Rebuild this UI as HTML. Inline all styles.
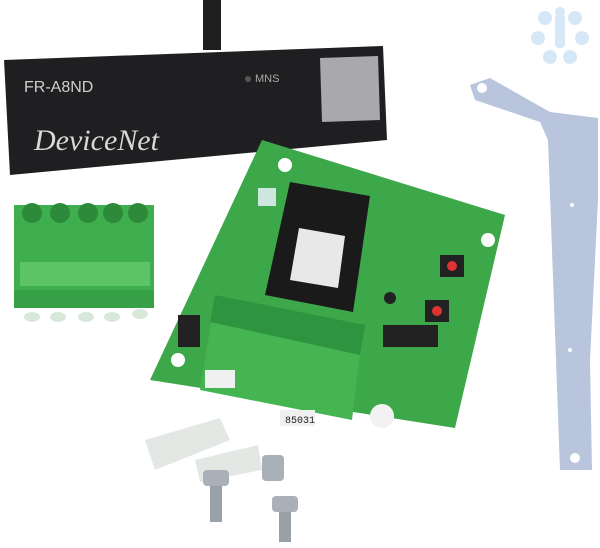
<!DOCTYPE html>
<html><head><style>
html,body{margin:0;padding:0;background:#fff;width:600px;height:548px;overflow:hidden}
svg{display:block}
</style></head><body>
<svg width="600" height="548" viewBox="0 0 600 548" xmlns="http://www.w3.org/2000/svg">
<!-- logo -->
<g fill="#d6e7f7">
<circle cx="545" cy="18" r="7"/><circle cx="575" cy="18" r="7"/><circle cx="538" cy="38" r="7"/><circle cx="582" cy="38" r="7"/><circle cx="550" cy="57" r="7"/><circle cx="570" cy="57" r="7"/><circle cx="560" cy="12" r="5"/>
<rect x="555" y="14" width="10" height="34" rx="4"/>
</g>
<!-- black panel -->
<rect x="203" y="0" width="18" height="50" fill="#1e1e1e"/>
<polygon points="4,60 383,46 387,140 10,175" fill="#1f1f21"/>
<polygon points="320,58 378,56 380,120 322,122" fill="#a9a9ab"/>
<text x="24" y="92" font-family="Liberation Sans, sans-serif" font-size="16" fill="#cfcfcf">FR-A8ND</text>
<circle cx="248" cy="79" r="3" fill="#555"/>
<text x="255" y="82" font-family="Liberation Sans, sans-serif" font-size="11" fill="#aaa">MNS</text>
<text x="34" y="150" font-family="Liberation Serif, serif" font-style="italic" font-size="30" fill="#d8d8d8">DeviceNet</text>
<!-- green connector -->
<rect x="14" y="205" width="140" height="95" fill="#3fae4f"/>
<rect x="14" y="290" width="140" height="18" fill="#36a046"/>
<g fill="#2d8a3a"><circle cx="32" cy="213" r="10"/><circle cx="60" cy="213" r="10"/><circle cx="88" cy="213" r="10"/><circle cx="113" cy="213" r="10"/><circle cx="138" cy="213" r="10"/></g>
<rect x="20" y="262" width="130" height="24" fill="#5cc466"/>
<g fill="#d8e8d8"><ellipse cx="32" cy="317" rx="8" ry="5"/><ellipse cx="58" cy="317" rx="8" ry="5"/><ellipse cx="86" cy="317" rx="8" ry="5"/><ellipse cx="112" cy="317" rx="8" ry="5"/><ellipse cx="140" cy="314" rx="8" ry="5"/></g>
<!-- PCB -->
<polygon points="262,140 505,215 455,428 150,380" fill="#3da84a"/>
<circle cx="285" cy="165" r="7" fill="#fff"/><circle cx="488" cy="240" r="7" fill="#fff"/><circle cx="178" cy="360" r="7" fill="#fff"/><circle cx="382" cy="416" r="12" fill="#f2f2f2"/>
<polygon points="290,182 370,196 353,312 265,295" fill="#1a1a1a"/>
<polygon points="299,228 345,236 338,288 290,280" fill="#e8e8e8"/>
<rect x="258" y="188" width="18" height="18" fill="#cfe6e0"/>
<rect x="440" y="255" width="24" height="22" fill="#222"/><circle cx="452" cy="266" r="5" fill="#d33"/>
<rect x="425" y="300" width="24" height="22" fill="#222"/><circle cx="437" cy="311" r="5" fill="#d33"/>
<rect x="383" y="325" width="55" height="22" fill="#222"/>
<circle cx="390" cy="298" r="6" fill="#222"/>
<rect x="178" y="315" width="22" height="32" fill="#222"/>
<!-- board connector -->
<polygon points="212,318 360,352 352,420 200,390" fill="#45b552"/>
<polygon points="215,295 365,325 360,355 210,322" fill="#2f9440"/>
<rect x="205" y="370" width="30" height="18" fill="#f0f0f0"/>
<rect x="280" y="410" width="35" height="16" fill="#f0f0f0"/>
<text x="285" y="423" font-family="Liberation Mono, monospace" font-size="10" fill="#222">85031</text>
<!-- bracket -->
<polygon points="470,85 490,78 550,112 598,118 598,200 590,360 592,470 560,470 556,360 548,140 540,122 475,100" fill="#b8c5dd"/>
<circle cx="482" cy="88" r="5" fill="#fff"/><circle cx="575" cy="458" r="5" fill="#fff"/>
<circle cx="572" cy="205" r="2" fill="#fff"/><circle cx="570" cy="350" r="2" fill="#fff"/>
<!-- screws/spacers -->
<polygon points="145,440 220,418 230,440 155,470" fill="#e4e8e4"/>
<polygon points="195,460 258,445 262,470 200,482" fill="#e4e8e4"/>
<rect x="203" y="470" width="26" height="16" rx="4" fill="#aab0b8"/><rect x="210" y="486" width="12" height="36" fill="#9aa0a8"/>
<rect x="262" y="455" width="22" height="26" rx="4" fill="#aab0b8"/>
<rect x="272" y="496" width="26" height="16" rx="4" fill="#aab0b8"/><rect x="279" y="512" width="12" height="30" fill="#9aa0a8"/>
</svg>
</body></html>
